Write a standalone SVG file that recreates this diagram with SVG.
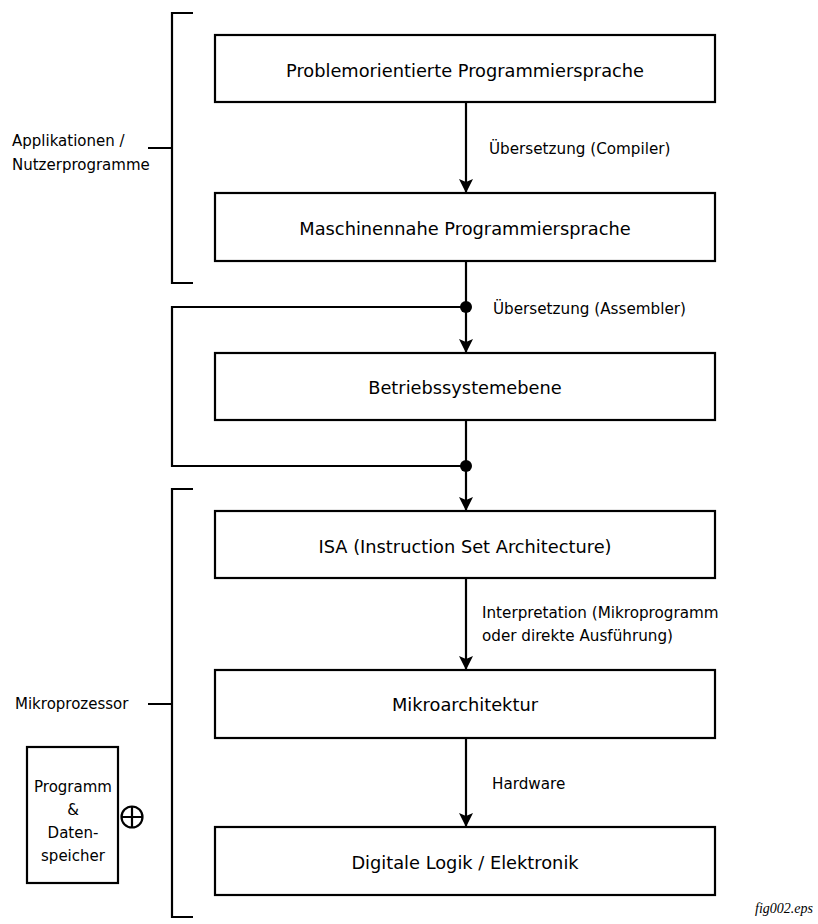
<svg xmlns="http://www.w3.org/2000/svg" width="818" height="924" viewBox="0 0 818 924">
  <style>
    .box { fill: #fff; stroke: #000; stroke-width: 2.2; }
    .line { fill: none; stroke: #000; stroke-width: 2.2; }
    .t { font-family: "DejaVu Sans", sans-serif; fill: #000; }
    .big { font-size: 17.8px; text-anchor: middle; }
    .lbl { font-size: 15.2px; }
    .side { font-size: 15px; }
  </style>
  <defs>
    <marker id="arr" viewBox="0 0 14 14" refX="14" refY="7" markerWidth="14" markerHeight="14" markerUnits="userSpaceOnUse" orient="auto">
      <path d="M0,0 L14,7 L0,14 L3,7 Z" fill="#000"/>
    </marker>
  </defs>

  <!-- layer boxes -->
  <g id="n1"><rect class="box" x="215" y="35" width="500" height="67"/><text class="t big" x="465" y="77">Problemorientierte Programmiersprache</text></g>
  <g id="n2"><rect class="box" x="215" y="193" width="500" height="68"/><text class="t big" x="465" y="235">Maschinennahe Programmiersprache</text></g>
  <g id="n3"><rect class="box" x="215" y="353" width="500" height="67"/><text class="t big" x="465" y="394">Betriebssystemebene</text></g>
  <g id="n4"><rect class="box" x="215" y="511" width="500" height="67"/><text class="t big" x="465" y="553">ISA (Instruction Set Architecture)</text></g>
  <g id="n5"><rect class="box" x="215" y="670" width="500" height="68"/><text class="t big" x="465" y="711">Mikroarchitektur</text></g>
  <g id="n6"><rect class="box" x="215" y="827" width="500" height="68"/><text class="t big" x="465" y="869">Digitale Logik / Elektronik</text></g>

  <!-- memory block -->
  <g id="mem">
    <rect class="box" x="27" y="747" width="91" height="136"/>
    <text class="t side" text-anchor="middle" x="73" y="792">Programm</text>
    <text class="t side" text-anchor="middle" x="73" y="815">&amp;</text>
    <text class="t side" text-anchor="middle" x="73" y="838">Daten-</text>
    <text class="t side" text-anchor="middle" x="73" y="861">speicher</text>
    <circle class="line" cx="132" cy="817" r="10.5"/>
    <path class="line" d="M121.5,817 H142.5 M132,806.5 V827.5"/>
  </g>

  <!-- brackets -->
  <g id="brackets">
    <path class="line" d="M193,13 H172 V283 H193 M148,148 H172"/>
    <text class="t side" x="12" y="146">Applikationen /</text>
    <text class="t side" x="12" y="170">Nutzerprogramme</text>
    <path class="line" d="M193,489 H172 V917 H193 M148,704 H172"/>
    <text class="t side" x="15" y="709">Mikroprozessor</text>
  </g>

  <!-- connectors -->
  <g id="connectors">
    <path class="line" d="M466,102 V193" marker-end="url(#arr)"/>
    <path class="line" d="M466,261 V353" marker-end="url(#arr)"/>
    <path class="line" d="M466,420 V511" marker-end="url(#arr)"/>
    <path class="line" d="M466,578 V670" marker-end="url(#arr)"/>
    <path class="line" d="M466,738 V827" marker-end="url(#arr)"/>
    <path class="line" d="M466,307 H172 V466 H466"/>
    <circle cx="466" cy="307" r="6" fill="#000"/>
    <circle cx="466" cy="466" r="6" fill="#000"/>
    <text class="t lbl" x="489" y="154">Übersetzung (Compiler)</text>
    <text class="t lbl" x="493" y="314">Übersetzung (Assembler)</text>
    <text class="t lbl" x="482" y="618">Interpretation (Mikroprogramm</text>
    <text class="t lbl" x="482" y="641">oder direkte Ausführung)</text>
    <text class="t lbl" x="492" y="789">Hardware</text>
  </g>

  <text x="755" y="913" font-family="'Liberation Serif', serif" font-style="italic" font-size="14">fig002.eps</text>
</svg>
